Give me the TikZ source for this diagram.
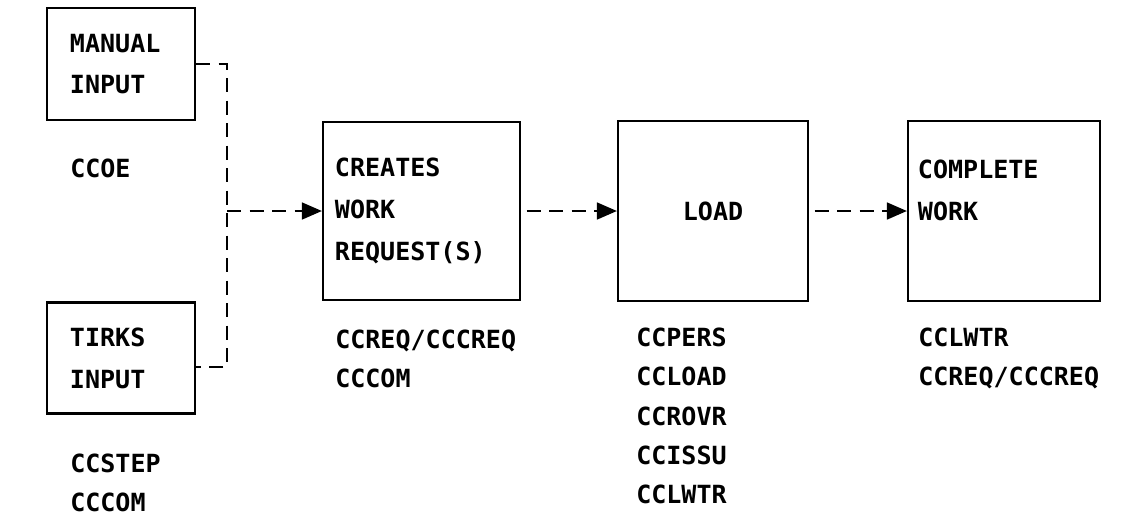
\documentclass[tikz,border=0pt]{standalone}
\usepackage{fontspec}
\setmonofont{DejaVu Sans Mono}
\usetikzlibrary{arrows.meta,positioning}

\begin{document}
\begin{tikzpicture}
        [x=0.025cm, y=-0.025cm,
          stage/.style={
            draw,
            line width=1.5pt,
            align=left,
            font=\ttfamily\bfseries\fontsize{17.8}{29.8}\selectfont},
          prog/.style={
            anchor=north west,
            inner sep=0pt,
            align=left,
            font=\ttfamily\bfseries\fontsize{17.8}{27.8}\selectfont},
          flow/.style={
            line width=1.6pt,
            dash pattern=on 10pt off 6pt},
          arr/.style={
            flow,
            -{Triangle[length=0.5cm,width=0.42cm]}}]
        \useasboundingbox (0,0) rectangle (1139,516);

        % input boxes
        \node[stage, minimum width=3.7cm, minimum height=2.8cm,
          inner xsep=0.575cm, text width=2.55cm] (manual) at (121,64)
          {MANUAL\\INPUT};
        \node[prog] (manualprog) at (70,159) {CCOE};

        \node[stage, minimum width=3.7cm, minimum height=2.775cm,
          inner xsep=0.575cm, text width=2.55cm] (tirks) at (121,358)
          {TIRKS\\INPUT};
        \node[prog] (tirksprog) at (70,454) {CCSTEP\\CCCOM};

        % main flow
        \node[stage, minimum width=4.925cm, minimum height=4.45cm,
          inner xsep=0.3cm, text width=4.325cm] (creates) at (421.5,211)
          {CREATES\\WORK\\REQUEST(S)};
        \node[prog] (createsprog) at (335,330) {CCREQ/CCCREQ\\CCCOM};

        \node[stage, align=center, minimum width=4.75cm, minimum height=4.5cm]
          (load) at (713,211) {LOAD};
        \node[prog] (loadprog) at (636,328)
          {CCPERS\\CCLOAD\\CCROVR\\CCISSU\\CCLWTR};

        \node[stage, minimum width=4.8cm, minimum height=4.5cm,
          inner xsep=0.25cm, text width=4.3cm]
          (complete) at (1004,211) {COMPLETE\\WORK\\~};
        \node[prog] (completeprog) at (918,328) {CCLWTR\\CCREQ/CCCREQ};

        % connectors
        \coordinate (join) at (227,211);
        \coordinate (tirksout) at ([yshift=-9*0.025cm]tirks.east);
        \draw[flow] (manual.east) -- (manual.east -| join)
          -- (tirksout -| join) -- (tirksout);
        \draw[arr] (join) -- (creates.west);
        \draw[arr] ([xshift=4pt]creates.east) -- (load.west);
        \draw[arr] ([xshift=4pt]load.east) -- (complete.west);
      \end{tikzpicture}
\end{document}
